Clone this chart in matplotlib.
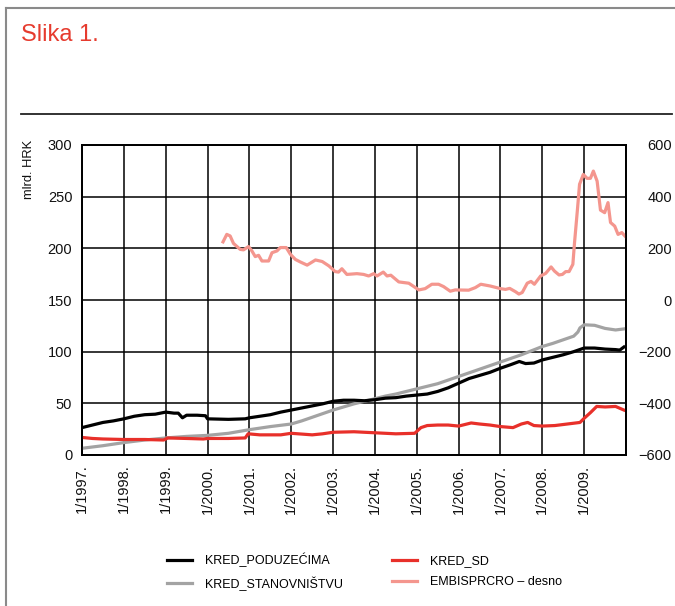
import numpy as np
import matplotlib
matplotlib.use("Agg")
import matplotlib.pyplot as plt
from matplotlib.lines import Line2D

plt.rcParams["font.family"] = ["Liberation Sans", "DejaVu Sans"]

# KRED_PODUZECIMA (mlrd. HRK)
t_pod = [1997.0, 1997.25, 1997.5, 1997.75, 1998.0, 1998.25, 1998.5, 1998.75, 1999.0,
         1999.2, 1999.3, 1999.4, 1999.5, 1999.75, 1999.95, 2000.0, 2000.5, 2000.9,
         2001.0, 2001.25, 2001.5, 2001.75, 2002.0, 2002.25, 2002.5, 2002.75, 2003.0,
         2003.25, 2003.5, 2003.75, 2004.0, 2004.25, 2004.5, 2004.75, 2005.0, 2005.25,
         2005.5, 2005.75, 2006.0, 2006.25, 2006.5, 2006.75, 2007.0, 2007.25, 2007.45,
         2007.6, 2007.8, 2008.0, 2008.25, 2008.5, 2008.75, 2009.0, 2009.25, 2009.5,
         2009.75, 2009.85, 2009.95]
v_pod = [26.5, 29, 31.5, 33, 35, 37.5, 39, 39.5, 41.5,
         40.5, 40.5, 36, 38.5, 38.5, 38, 35, 34.5, 35,
         36, 37.5, 39, 41.5, 43.5, 45.5, 47.5, 49.5, 52,
         53, 53, 52.5, 53.5, 55, 55.5, 57, 58, 59,
         61.5, 65, 69.5, 74, 77, 80, 84, 87.5, 90.5,
         88.5, 89, 92, 94.5, 97, 100, 103.5, 103.5, 102.5,
         102, 101.5, 104.5]

# KRED_STANOVNISTVU (mlrd. HRK)
t_stan = [1997.0, 1997.5, 1998.0, 1998.5, 1999.0, 1999.5, 2000.0, 2000.5, 2001.0,
          2001.5, 2002.0, 2002.25, 2002.5, 2002.75, 2003.0, 2003.25, 2003.5, 2003.75,
          2004.0, 2004.25, 2004.5, 2004.75, 2005.0, 2005.25, 2005.5, 2005.75, 2006.0,
          2006.25, 2006.5, 2006.75, 2007.0, 2007.25, 2007.5, 2007.75, 2008.0, 2008.25,
          2008.5, 2008.75, 2008.85, 2008.9, 2009.0, 2009.25, 2009.5, 2009.75, 2009.95]
v_stan = [6.5, 9, 12, 14.5, 16.5, 18, 19, 21, 24.5,
          27.5, 30, 33, 36.5, 40, 43.5, 46.5, 49.5, 52,
          54.5, 57, 59, 61.5, 64, 66.5, 69, 72.5, 76,
          79.5, 83, 86.5, 90, 93.5, 97, 101, 105, 108,
          111.5, 115, 119, 123, 126, 125.5, 122.5, 121, 122]

# KRED_SD (mlrd. HRK)
t_sd = [1997.0, 1997.25, 1997.5, 1998.0, 1998.5, 1998.95, 1999.05, 1999.5, 1999.9,
        2000.0, 2000.5, 2000.9, 2000.97, 2001.25, 2001.5, 2001.75, 2002.0, 2002.5,
        2002.75, 2003.0, 2003.5, 2004.0, 2004.5, 2004.95, 2005.1, 2005.25, 2005.5,
        2005.75, 2006.0, 2006.3, 2006.5, 2006.75, 2007.0, 2007.3, 2007.5, 2007.65,
        2007.8, 2008.0, 2008.3, 2008.6, 2008.9, 2009.0, 2009.15, 2009.3, 2009.5,
        2009.75, 2009.95]
v_sd = [17, 16, 15.5, 15, 15, 14.5, 16.5, 16, 15.5,
        16, 16, 16.5, 20.5, 19.5, 19.5, 19.5, 21, 19.5,
        20.5, 22, 22.5, 21.5, 20.5, 21, 26.5, 28.5, 29,
        29, 28, 31, 30, 29, 27.5, 26.5, 30, 31.5,
        28.5, 28, 28.5, 30, 31.5, 35.5, 41, 47, 46.5,
        47, 43.5]

# EMBISPRCRO - desno (right axis)
t_embi = [2000.37, 2000.46, 2000.54, 2000.62, 2000.78, 2000.86, 2000.98, 2001.06, 2001.14,
          2001.22, 2001.3, 2001.46, 2001.54, 2001.66, 2001.74, 2001.88, 2001.98, 2002.1,
          2002.22, 2002.38, 2002.58, 2002.74, 2002.9, 2003.05, 2003.13, 2003.21, 2003.33,
          2003.57, 2003.73, 2003.85, 2003.97, 2004.05, 2004.2, 2004.29, 2004.38, 2004.57,
          2004.81, 2005.05, 2005.2, 2005.36, 2005.52, 2005.64, 2005.8, 2005.92, 2006.24,
          2006.4, 2006.53, 2006.76, 2007.0, 2007.12, 2007.22, 2007.36, 2007.44, 2007.52,
          2007.64, 2007.73, 2007.81, 2007.96, 2008.08, 2008.21, 2008.29, 2008.4, 2008.48,
          2008.56, 2008.64, 2008.73, 2008.77, 2008.84, 2008.89, 2008.98, 2009.07, 2009.15,
          2009.22, 2009.31, 2009.39, 2009.49, 2009.57, 2009.63, 2009.73, 2009.81, 2009.9,
          2009.99]
v_embi = [225, 254, 248, 219, 196, 194, 207, 190, 168,
          173, 151, 151, 183, 190, 203, 203, 177, 157,
          147, 135, 155, 149, 132, 110, 108, 121, 99,
          102, 99, 93, 102, 93, 108, 93, 96, 70,
          65, 39, 44, 61, 61, 52, 34, 39, 38,
          48, 61, 54, 44, 41, 45, 32, 23, 29,
          65, 72, 61, 93, 103, 128, 112, 97, 99,
          110, 110, 138, 222, 351, 448, 486, 471, 471,
          499, 460, 348, 338, 377, 300, 286, 254, 261,
          245]

years = list(range(1997, 2010))
year_labels = ["1/%d." % y for y in years]

fig = plt.figure(figsize=(6.75, 6.06), dpi=100)
ax = fig.add_axes([82 / 675, 1 - 455 / 606, 544 / 675, 310 / 606])
ax2 = ax.twinx()

ax.plot(t_pod, v_pod, color="#000000", lw=2.3, zorder=4)
ax.plot(t_stan, v_stan, color="#a3a3a3", lw=2.3, zorder=3)
ax.plot(t_sd, v_sd, color="#e8302a", lw=2.3, zorder=3)
ax2.plot(t_embi, v_embi, color="#f4968e", lw=2.3)

ax.set_xlim(1997, 2010)
ax.set_ylim(0, 300)
ax2.set_ylim(-600, 600)
ax.set_yticks(np.arange(0, 301, 50))
ax2.set_yticks(np.arange(-600, 601, 200))
ax.set_xticks(years)
ax.set_xticklabels(year_labels, rotation=90, va="top", ha="center")
ax.set_xticks([2010], minor=True)

ax.grid(True, which="both", color="#000000", lw=1.1)
ax.set_axisbelow(True)
for a in (ax, ax2):
    for s in a.spines.values():
        s.set_color("#000000")
        s.set_linewidth(1.3)

ax.tick_params(axis="both", which="both", length=0, labelsize=10.5, colors="#111111")
ax.tick_params(axis="y", pad=7)
ax.tick_params(axis="x", pad=7)
ax2.tick_params(axis="y", length=0, labelsize=10.5, colors="#111111", pad=33)
for lbl in ax2.get_yticklabels():
    lbl.set_horizontalalignment("right")

fig.text(29 / 675, 1 - 169 / 606, "mlrd. HRK", rotation=90, ha="center", va="center",
         fontsize=9.3, color="#111111")
fig.text(21 / 675, 1 - 35 / 606, "Slika 1.", fontsize=17, color="#e63b2e",
         ha="left", va="center")

# frame and separator
fig.add_artist(Line2D([6 / 675, 1], [1 - 8 / 606, 1 - 8 / 606], color="#8a8a8a", lw=1.5))
fig.add_artist(Line2D([6 / 675, 6 / 675], [0, 1 - 8 / 606], color="#8a8a8a", lw=1.5))
fig.add_artist(Line2D([21 / 675, 672 / 675], [1 - 114 / 606, 1 - 114 / 606], color="#222222", lw=1.3))

handles = [
    Line2D([], [], color="#000000", lw=2.3),
    Line2D([], [], color="#a3a3a3", lw=2.3),
    Line2D([], [], color="#e8302a", lw=2.3),
    Line2D([], [], color="#f4968e", lw=2.3),
]
labels = ["KRED_PODUZEĆIMA", "KRED_STANOVNIŠTVU", "KRED_SD", "EMBISPRCRO – desno"]
fig.legend(handles, labels, ncol=2, frameon=False, loc="upper left",
           bbox_to_anchor=(167 / 675, 1 - 553 / 606), borderpad=0, borderaxespad=0,
           handlelength=2.0, handletextpad=1.04, columnspacing=3.9, labelspacing=0.72,
           prop={"size": 9})

fig.savefig("out.png", dpi=100)
